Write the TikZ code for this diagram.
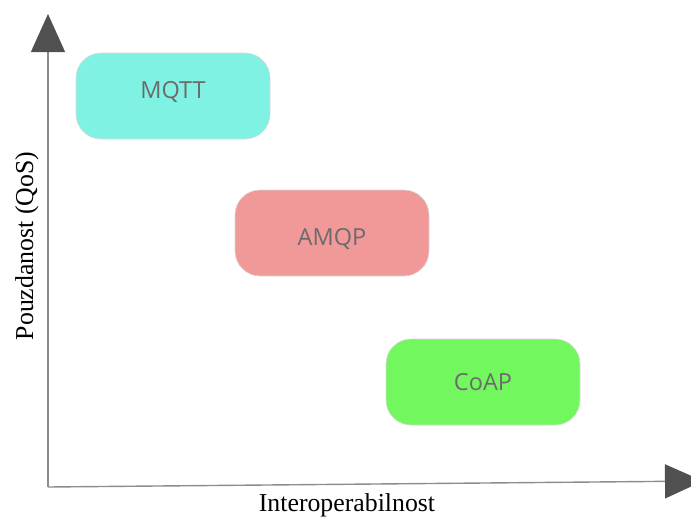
\documentclass[tikz,border=0pt]{standalone}
\usepackage{fontspec}
\setmainfont{Liberation Serif}
\newfontfamily\boxfont{Open Sans}
\usetikzlibrary{arrows.meta}

\definecolor{axisgray}{HTML}{8C8C8C}
\definecolor{tipgray}{HTML}{505050}
\definecolor{mqttcol}{HTML}{80F2E3}
\definecolor{amqpcol}{HTML}{F19999}
\definecolor{coapcol}{HTML}{72F75E}

\begin{document}
\begin{tikzpicture}[%
  x=1pt, y=-1pt,
  axis/.style = {draw=axisgray, line width=1.4pt,
    -{Triangle[length=38pt, width=34pt, fill=tipgray, color=tipgray]}},
  proto/.style = {rounded corners=25pt, minimum width=194pt,
    minimum height=86pt, draw=black!15, line width=0.6pt,
    font=\boxfont\fontsize{23.5}{28}\selectfont, text=black!58},
  axislabel/.style = {font=\fontsize{25.8}{30}\selectfont, inner sep=0pt},
]

  \useasboundingbox (0,0) rectangle (691,517);

  \coordinate (origin) at (48,487);
  \coordinate (ytip) at (48,14);
  \coordinate (xtip) at (703,481);

  % axes
  \draw[axis] (origin) -- (ytip);
  \draw[axis] (origin) -- (xtip);

  \node[axislabel] (xlabel) at (347,505) {Interoperabilnost};
  \node[axislabel, rotate=90] (ylabel) at (27,246) {Pouzdanost (QoS)};

  % protocols
  \node[proto, fill=mqttcol, text depth=13pt] (mqtt) at (173,96) {MQTT};
  \node[proto, fill=amqpcol, text height=28pt] (amqp) at (332,233) {AMQP};
  \node[proto, fill=coapcol] (coap) at (483,382) {CoAP};

\end{tikzpicture}
\end{document}
